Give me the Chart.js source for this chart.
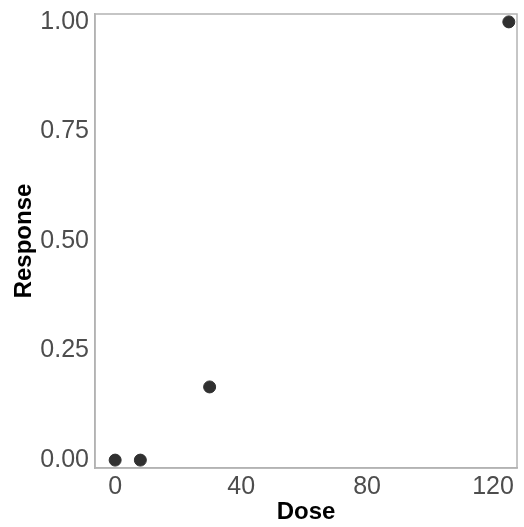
<!DOCTYPE html>
<html>
<head>
<meta charset="utf-8">
<script src="https://cdn.jsdelivr.net/npm/chart.js@4"></script>
<style>
  html, body { margin: 0; padding: 0; background: #fff; }
  #wrap { width: 524px; height: 527px; }
</style>
</head>
<body>
<div id="wrap"><canvas id="c" width="524" height="527"></canvas></div>
<script>
var dose = [0, 8, 30, 125];
var response = [0, 0, 0.167, 1.0];
var xTicks = [0, 40, 80, 120];
var yTicks = [0, 0.25, 0.5, 0.75, 1.0];

var points = dose.map(function (d, i) { return { x: d, y: response[i] }; });

var boxPlugin = {
    id: 'box',
    afterDraw: function (chart) {
        var a = chart.chartArea, ctx = chart.ctx;
        ctx.save();
        ctx.strokeStyle = '#b3b3b3';
        ctx.lineWidth = 1.5;
        ctx.strokeRect(a.left, a.top, a.right - a.left, a.bottom - a.top);
        ctx.restore();
    }
};

new Chart(document.getElementById('c'), {
    type: 'scatter',
    data: {
        datasets: [{
            data: points,
            backgroundColor: '#303030',
            borderColor: '#303030',
            pointRadius: 6,
            pointHoverRadius: 6
        }]
    },
    options: {
        responsive: false,
        animation: false,
        layout: { padding: { top: 14, right: 2, left: 0, bottom: 0 } },
        plugins: { legend: { display: false }, tooltip: { enabled: false } },
        scales: {
            x: {
                type: 'linear',
                min: -6.4,
                max: 127.6,
                afterBuildTicks: function (s) { s.ticks = xTicks.map(function (v) { return { value: v }; }); },
                afterFit: function (s) { s.height = 59; s.paddingRight = 0; },
                grid: { display: false, drawTicks: true, tickLength: 4, tickColor: '#b3b3b3' },
                border: { display: true, color: '#b3b3b3', width: 1.5 },
                ticks: {
                    color: '#4d4d4d',
                    font: { family: 'Liberation Sans', size: 25 },
                    padding: 0,
                    maxRotation: 0
                },
                title: {
                    display: true,
                    text: 'Dose',
                    color: '#000',
                    font: { family: 'Liberation Sans', size: 24, weight: 'bold' },
                    padding: { top: 0, bottom: 0 }
                }
            },
            y: {
                min: -0.018,
                max: 1.018,
                afterBuildTicks: function (s) { s.ticks = yTicks.map(function (v) { return { value: v }; }); },
                afterFit: function (s) { s.width = 95; s.paddingTop = 0; s.paddingBottom = 0; },
                grid: { display: false, drawTicks: true, tickLength: 4, tickColor: '#b3b3b3' },
                border: { display: true, color: '#b3b3b3', width: 1.5 },
                ticks: {
                    color: '#4d4d4d',
                    font: { family: 'Liberation Sans', size: 25, lineHeight: 1 },
                    padding: 2,
                    callback: function (v) { return Number(v).toFixed(2); }
                },
                title: {
                    display: true,
                    text: 'Response',
                    color: '#000',
                    font: { family: 'Liberation Sans', size: 24, weight: 'bold' },
                    padding: { top: 10, bottom: 0 }
                }
            }
        }
    },
    plugins: [boxPlugin]
});
</script>
</body>
</html>
